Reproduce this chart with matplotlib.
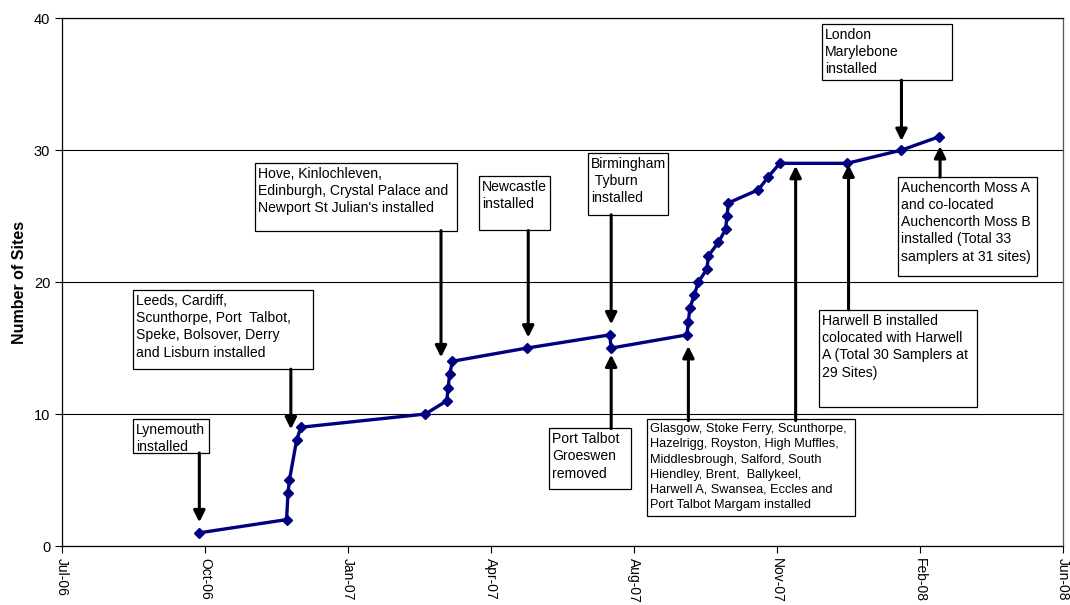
import matplotlib
matplotlib.use('Agg')
import matplotlib.pyplot as plt
import matplotlib.dates as mdates
from matplotlib.patches import Rectangle
import numpy as np

plt.rcParams['font.family'] = ['Liberation Sans', 'DejaVu Sans']

# installation dates and cumulative number of sites
dates = ['2006-10-06', '2006-12-06', '2006-12-07', '2006-12-08', '2006-12-13',
         '2006-12-16', '2007-03-13', '2007-03-28', '2007-03-29', '2007-03-30',
         '2007-04-01', '2007-05-23', '2007-07-20', '2007-07-21', '2007-09-12',
         '2007-09-13', '2007-09-14', '2007-09-17', '2007-09-20', '2007-09-26',
         '2007-09-27', '2007-10-04', '2007-10-09', '2007-10-10', '2007-10-11',
         '2007-11-01', '2007-11-08', '2007-11-16', '2008-01-02', '2008-02-09',
         '2008-03-06']
sites = [1, 2, 4, 5, 8, 9, 10, 11, 12, 13, 14, 15, 16, 15, 16, 17, 18, 19, 20,
         21, 22, 23, 24, 25, 26, 27, 28, 29, 29, 30, 31]

# axis runs from 2 Jul 2006 in steps of 100 days
axis_start = '2006-07-02'
axis_step_days = 100
axis_steps = 7

# text, font size, line spacing, box (left, top, width, height in axes fraction),
# arrows (date, tail, tip)
notes = [
    ('Lynemouth\ninstalled', 10.1, 1.3,
     (0.071, 0.2405, 0.0755, 0.0644),
     [('2006-10-06', 7.05, 1.8)]),
    ('Leeds, Cardiff,\nScunthorpe, Port  Talbot,\nSpeke, Bolsover, Derry\nand Lisburn installed', 10.1, 1.3,
     (0.071, 0.4848, 0.1796, 0.1501),
     [('2006-12-09', 13.4, 8.85)]),
    ("Hove, Kinlochleven,\nEdinburgh, Crystal Palace and\nNewport St Julian's installed", 10.1, 1.3,
     (0.1928, 0.7259, 0.2015, 0.1293),
     [('2007-03-24', 23.9, 14.3)]),
    ('Newcastle\ninstalled', 10.1, 1.3,
     (0.4169, 0.7008, 0.0706, 0.1023),
     [('2007-05-24', 23.9, 15.8)]),
    ('Birmingham\n Tyburn\ninstalled', 10.1, 1.3,
     (0.5255, 0.7443, 0.0799, 0.1174),
     [('2007-07-21', 25.1, 16.8)]),
    ('Port Talbot\nGroeswen\nremoved', 10.1, 1.3,
     (0.4868, 0.2229, 0.0813, 0.1155),
     [('2007-07-21', 8.9, 14.5)]),
    ('Glasgow, Stoke Ferry, Scunthorpe,\nHazelrigg, Royston, High Muffles,\n'
     'Middlesbrough, Salford, South\nHiendley, Brent,  Ballykeel,\n'
     'Harwell A, Swansea, Eccles and\nPort Talbot Margam installed', 9.2, 1.36,
     (0.5847, 0.2400, 0.2075, 0.1831),
     [('2007-09-13', 9.5, 15.15), ('2007-11-27', 9.5, 28.8)]),
    ('London\nMarylebone\ninstalled', 10.1, 1.3,
     (0.7595, 0.9886, 0.1299, 0.1061),
     [('2008-02-09', 35.3, 30.7)]),
    ('Auchencorth Moss A\nand co-located\nAuchencorth Moss B\ninstalled (Total 33\nsamplers at 31 sites)', 10.1, 1.3,
     (0.8352, 0.6994, 0.1389, 0.1880),
     [('2008-03-07', 27.95, 30.3)]),
    ('Harwell B installed\ncolocated with Harwell\nA (Total 30 Samplers at\n29 Sites)', 10.1, 1.3,
     (0.7562, 0.4470, 0.1576, 0.1831),
     [('2008-01-03', 17.9, 28.9)]),
]

x = mdates.datestr2num(dates)
x0 = mdates.datestr2num(axis_start)
ticks = x0 + axis_step_days * np.arange(axis_steps + 1)

fig = plt.figure(figsize=(10.7, 6.05), dpi=100)
ax = fig.add_axes([0.058, 0.0975, 0.9355, 0.8725])

ax.plot(x, sites, color='#000080', lw=2.4, marker='D', ms=5,
        mec='#000080', mfc='#000080', zorder=3)

ax.set_xlim(ticks[0], ticks[-1])
ax.set_ylim(0, 40)
ax.set_yticks([0, 10, 20, 30, 40])
ax.set_xticks(ticks)
ax.xaxis.set_major_formatter(mdates.DateFormatter('%b-%y'))
ax.tick_params(axis='x', labelrotation=270, labelsize=10, length=5, direction='out')
ax.tick_params(axis='y', labelsize=10.5, length=5, direction='out')
ax.yaxis.grid(True, color='black', lw=0.8)
ax.set_axisbelow(True)
for s in ax.spines.values():
    s.set_color('black')
    s.set_linewidth(0.9)
ax.spines['right'].set_color('#555555')

ax.set_ylabel('Number of Sites', fontsize=11.5, fontweight='bold', labelpad=5)

# text boxes with arrows
for text, size, spacing, (bx, by, bw, bh), arrows in notes:
    ax.add_patch(Rectangle((bx, by - bh), bw, bh, transform=ax.transAxes,
                           fc='white', ec='black', lw=0.9, zorder=4))
    ax.text(bx + 0.003, by - 0.007, text, transform=ax.transAxes,
            ha='left', va='top', fontsize=size, linespacing=spacing, zorder=5)
    for day, tail, tip in arrows:
        xd = mdates.datestr2num(day)
        ax.annotate('', xy=(xd, tip), xytext=(xd, tail),
                    arrowprops=dict(arrowstyle='-|>', color='black', lw=2.2,
                                    mutation_scale=17, shrinkA=0, shrinkB=0),
                    zorder=6)

fig.savefig('out.png', dpi=100)
